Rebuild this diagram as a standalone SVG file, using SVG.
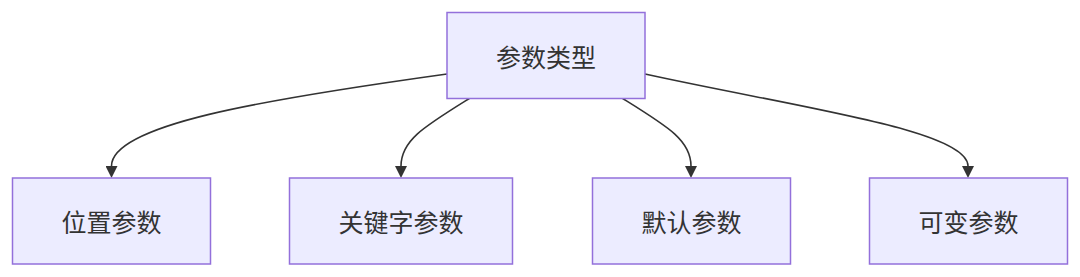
<svg xmlns="http://www.w3.org/2000/svg" width="1080" height="277" viewBox="0 0 1080 277">
<style>
.node rect{fill:#ECECFF;stroke:#9370DB;stroke-width:1.5}
.node text{font-family:"Noto Sans CJK SC","Noto Sans",sans-serif;font-size:25px;fill:#333;text-anchor:middle;dominant-baseline:central}
.edge{fill:none;stroke:#333;stroke-width:1.6}
</style>
<defs>
<marker id="arrow" viewBox="0 0 12 12" refX="0" refY="6" markerWidth="12" markerHeight="12" markerUnits="userSpaceOnUse" orient="auto">
<path d="M0,0 L12,6 L0,12 z" fill="#333"/>
</marker>
</defs>
<rect width="1080" height="277" fill="#fff"/>
<g id="connectors">
<path class="edge" marker-end="url(#arrow)" d="M447,74 C260,100 111.5,125 111.5,166"/>
<path class="edge" marker-end="url(#arrow)" d="M470,98 C425,126 401,140 401,166"/>
<path class="edge" marker-end="url(#arrow)" d="M622,98 C667,126 691,140 691,166"/>
<path class="edge" marker-end="url(#arrow)" d="M645,74 C800,108 968,130 968,166"/>
</g>
<g id="node-top" class="node"><rect x="447" y="12.5" width="198" height="86"/><text x="546" y="55.5">参数类型</text></g>
<g id="node-1" class="node"><rect x="12.5" y="178" width="198" height="86"/><text x="111.5" y="221">位置参数</text></g>
<g id="node-2" class="node"><rect x="289.5" y="178" width="223" height="86"/><text x="401" y="221">关键字参数</text></g>
<g id="node-3" class="node"><rect x="592.5" y="178" width="198" height="86"/><text x="691.5" y="221">默认参数</text></g>
<g id="node-4" class="node"><rect x="869.5" y="178" width="198" height="86"/><text x="968.5" y="221">可变参数</text></g>
</svg>
